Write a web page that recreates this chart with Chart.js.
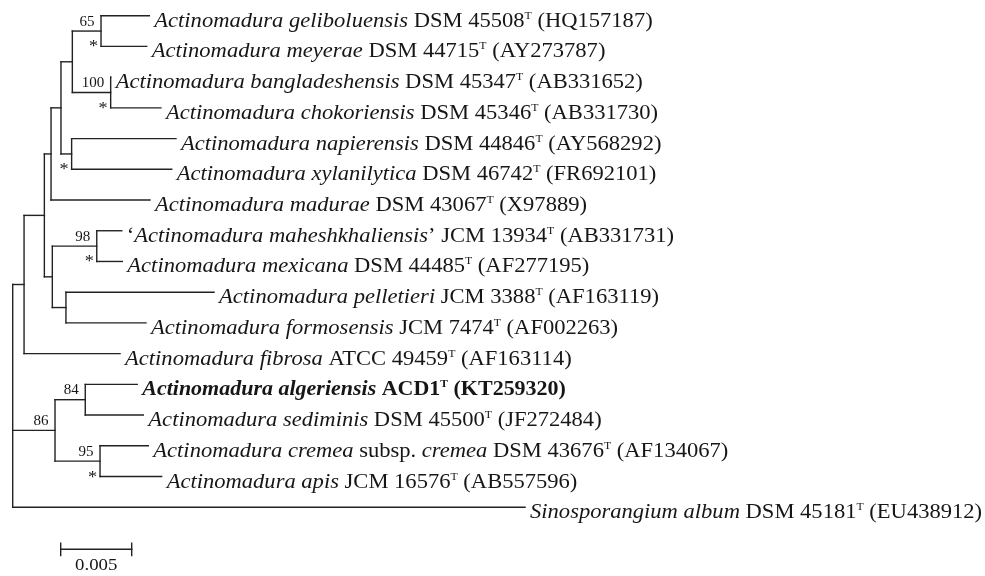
<!DOCTYPE html>
<html>
<head>
<meta charset="utf-8">
<script src="https://cdn.jsdelivr.net/npm/chart.js@4/dist/chart.umd.min.js"></script>
<style>
  html, body { margin: 0; padding: 0; background: #ffffff; }
  #wrap { width: 985px; height: 576px; }
</style>
</head>
<body>
<div id="wrap"><canvas id="tree" width="985" height="576"></canvas></div>
<script>
// ---------------- data ----------------
// leaves, top to bottom
const leafNames = [
  'Actinomadura geliboluensis',
  'Actinomadura meyerae',
  'Actinomadura bangladeshensis',
  'Actinomadura chokoriensis',
  'Actinomadura napierensis',
  'Actinomadura xylanilytica',
  'Actinomadura madurae',
  '\u2018Actinomadura maheshkhaliensis\u2019',
  'Actinomadura mexicana',
  'Actinomadura pelletieri',
  'Actinomadura formosensis',
  'Actinomadura fibrosa',
  'Actinomadura algeriensis',
  'Actinomadura sediminis',
  'Actinomadura cremea subsp. cremea',
  'Actinomadura apis',
  'Sinosporangium album'
];
const leafStrains = ['DSM 45508', 'DSM 44715', 'DSM 45347', 'DSM 45346', 'DSM 44846', 'DSM 46742',
  'DSM 43067', 'JCM 13934', 'DSM 44485', 'JCM 3388', 'JCM 7474', 'ATCC 49459', 'ACD1',
  'DSM 45500', 'DSM 43676', 'JCM 16576', 'DSM 45181'];
const leafAccessions = ['HQ157187', 'AY273787', 'AB331652', 'AB331730', 'AY568292', 'FR692101',
  'X97889', 'AB331731', 'AF277195', 'AF163119', 'AF002263', 'AF163114', 'KT259320',
  'JF272484', 'AF134067', 'AB557596', 'EU438912'];
// cumulative distance from root (substitutions per site)
const leafDepth = [0.00962, 0.00944, 0.00690, 0.01044, 0.01150, 0.01120, 0.00967, 0.00768,
  0.00772, 0.01418, 0.00939, 0.00756, 0.00877, 0.00920, 0.00955, 0.01049, 0.03608];
const highlightLeaf = 12; // the new strain, set in bold

// internal nodes
const nodeIds       = ['K', 'L', 'I', 'J', 'H', 'B', 'M', 'N', 'C', 'A', 'D', 'F', 'G', 'E', 'R'];
const nodeDepth     = [0.00622, 0.00690, 0.00420, 0.00415, 0.00340, 0.00270, 0.00592, 0.00375,
                       0.00279, 0.00223, 0.00080, 0.00511, 0.00615, 0.00298, 0];
const nodeChildren  = [[0, 1], [2, 3], ['K', 'L'], [4, 5], ['I', 'J'], ['H', 6], [7, 8], [9, 10],
                       ['M', 'N'], ['B', 'C'], ['A', 11], [12, 13], [14, 15], ['F', 'G'], ['D', 'E', 16]];
const nodeBootstrap = [65, 100, null, null, null, null, 98, null, null, null, null, 84, 95, 86, null];
const nodeStar      = [true, true, false, true, false, false, true, false, false, false, false, false, true, false, false];

// scale bar
const scaleBarValue = 0.005;
const scaleBarLabel = '0.005';

// ---------------- layout / style ----------------
const W = 985, H = 576;
const pxPerUnit = 14200, rootPx = 12.7;
const leafTopPx = 15.7, leafStepPx = 30.72;
const xMin = -rootPx / pxPerUnit, xMax = xMin + W / pxPerUnit;
const yMin = -leafTopPx / leafStepPx, yMax = yMin + H / leafStepPx;
const scaleBarStart = 0.00338, scaleBarRow = 17.37;
const LINE = '#222222', TEXT = '#161616';
const SX = 1.074;           // horizontal stretch of the reference lettering
const FAM = "'Liberation Serif', 'Times New Roman', serif";
const LEAF_FS = 21, SUP_FS = 11;

// ---------------- build tree geometry ----------------
function yOf(id) {
  if (typeof id === 'number') return id;
  const k = nodeIds.indexOf(id);
  const ch = nodeChildren[k];
  return (yOf(ch[0]) + yOf(ch[ch.length - 1])) / 2;
}
function depthOf(id) {
  return typeof id === 'number' ? leafDepth[id] : nodeDepth[nodeIds.indexOf(id)];
}
const segments = [];
nodeIds.forEach((id, k) => {
  const ch = nodeChildren[k];
  const ys = ch.map(yOf);
  segments.push([{x: nodeDepth[k], y: Math.min(...ys)}, {x: nodeDepth[k], y: Math.max(...ys)}]);
  ch.forEach(c => segments.push([{x: nodeDepth[k], y: yOf(c)}, {x: depthOf(c), y: yOf(c)}]));
});
// scale bar
const sbEnd = scaleBarStart + scaleBarValue;
segments.push([{x: scaleBarStart, y: scaleBarRow}, {x: sbEnd, y: scaleBarRow}]);
segments.push([{x: scaleBarStart, y: scaleBarRow - 0.2}, {x: scaleBarStart, y: scaleBarRow + 0.2}]);
segments.push([{x: sbEnd, y: scaleBarRow - 0.2}, {x: sbEnd, y: scaleBarRow + 0.2}]);

const datasets = segments.map(s => ({
  data: s, showLine: true, borderColor: LINE, borderWidth: 1.4, pointRadius: 0,
  pointHoverRadius: 0, fill: false, borderCapStyle: 'square', tension: 0
}));

// ---------------- text plugin ----------------
function fontOf(style, size) {
  const b = style.includes('b') ? 'bold ' : '';
  const i = style.includes('i') ? 'italic ' : '';
  return i + b + size + 'px ' + FAM;
}
function leafSegments(i) {
  const bold = i === highlightLeaf ? 'b' : '';
  const segs = [];
  let name = leafNames[i];
  let pre = '', post = '';
  if (name.startsWith('\u2018')) { pre = '\u2018'; post = '\u2019'; name = name.slice(1, -1); }
  if (pre) segs.push({t: pre, s: 'r' + bold});
  const parts = name.split(' subsp. ');
  segs.push({t: parts[0], s: 'i' + bold});
  if (parts.length > 1) { segs.push({t: ' subsp. ', s: 'r' + bold}); segs.push({t: parts[1], s: 'i' + bold}); }
  if (post) segs.push({t: post, s: 'r' + bold});
  segs.push({t: ' ' + leafStrains[i], s: 'r' + bold});
  segs.push({t: 'T', s: 'r' + bold, sup: true});
  segs.push({t: ' (' + leafAccessions[i] + ')', s: 'r' + bold});
  return segs;
}
const treeText = {
  id: 'treeText',
  afterDatasetsDraw(chart) {
    const ctx = chart.ctx, xs = chart.scales.x, ys = chart.scales.y;
    ctx.save();
    ctx.fillStyle = TEXT;
    ctx.textBaseline = 'alphabetic';
    // leaf labels
    leafNames.forEach((n, i) => {
      const x0 = xs.getPixelForValue(leafDepth[i]) + 5;
      const yb = ys.getPixelForValue(i) + 11;
      ctx.save();
      ctx.translate(x0, yb);
      ctx.scale(i === highlightLeaf ? SX * 0.975 : SX, 1);
      ctx.textAlign = 'left';
      let cx = 0;
      leafSegments(i).forEach(sg => {
        ctx.font = fontOf(sg.s, sg.sup ? SUP_FS : LEAF_FS);
        ctx.fillText(sg.t, cx, sg.sup ? -8 : 0);
        cx += ctx.measureText(sg.t).width;
      });
      ctx.restore();
    });
    // bootstrap values and asterisks
    nodeIds.forEach((id, k) => {
      const nx = xs.getPixelForValue(nodeDepth[k]);
      const ny = ys.getPixelForValue(yOf(id));
      const ch = nodeChildren[k];
      if (nodeBootstrap[k] !== null) {
        ctx.save();
        ctx.translate(nx - 6.5, ny - 5.5);
        ctx.scale(SX, 1);
        ctx.textAlign = 'right';
        ctx.font = '14px ' + FAM;
        ctx.fillText(String(nodeBootstrap[k]), 0, 0);
        ctx.restore();
      }
      if (nodeStar[k]) {
        const ly = ys.getPixelForValue(yOf(ch[ch.length - 1]));
        ctx.save();
        ctx.translate(nx - 7.5, ly - 3 + 8);
        ctx.scale(SX, 1);
        ctx.textAlign = 'center';
        ctx.font = '17px ' + FAM;
        ctx.fillText('*', 0, 0);
        ctx.restore();
      }
    });
    // scale bar label
    ctx.save();
    ctx.translate(xs.getPixelForValue(scaleBarStart + scaleBarValue / 2), ys.getPixelForValue(scaleBarRow) + 20.5);
    ctx.scale(SX, 1);
    ctx.textAlign = 'center';
    ctx.font = '17.5px ' + FAM;
    ctx.fillText(scaleBarLabel, 0, 0);
    ctx.restore();
    ctx.restore();
  }
};

new Chart(document.getElementById('tree'), {
  type: 'scatter',
  data: { datasets },
  options: {
    responsive: false,
    animation: false,
    devicePixelRatio: 1,
    layout: { padding: 0 },
    events: [],
    plugins: { legend: { display: false }, tooltip: { enabled: false }, title: { display: false } },
    scales: {
      x: { type: 'linear', display: false, min: xMin, max: xMax },
      y: { type: 'linear', display: false, reverse: true, min: yMin, max: yMax }
    }
  },
  plugins: [treeText]
});
</script>
</body>
</html>
